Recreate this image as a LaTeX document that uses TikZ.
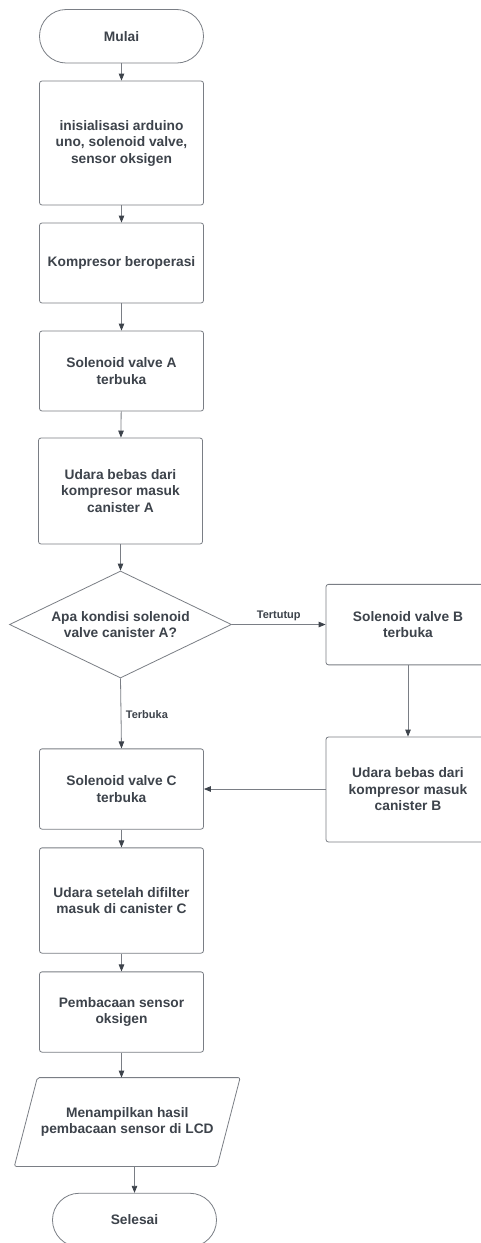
\documentclass[tikz,border=0pt]{standalone}
\usepackage{fontspec}
\setmainfont{Liberation Sans}
\usetikzlibrary{arrows.meta,shapes.geometric}
\definecolor{linecol}{HTML}{7A7E85}
\definecolor{tipcol}{HTML}{3D434B}
\definecolor{txtcol}{HTML}{3D434B}
\tikzset{
  base/.style={draw=linecol, line width=0.8pt, text=txtcol, align=center, inner sep=0pt,
    font=\fontsize{13.76}{16.5}\selectfont\bfseries},
  procbox/.style={base, rectangle, rounded corners=2.5pt, minimum width=164pt},
  termbox/.style={base, rectangle, rounded corners=26.7pt, minimum width=164pt, minimum height=53.5pt},
  decbox/.style={base, diamond, aspect=2.07, minimum width=222pt, minimum height=107pt},
  conn/.style={draw=linecol, line width=0.8pt, -{Triangle[length=7pt,width=5.5pt,color=tipcol,fill=tipcol]}},
  lbl/.style={text=txtcol, inner sep=0pt, font=\fontsize{11}{13}\selectfont\bfseries}
}
\begin{document}
\begin{tikzpicture}[x=1pt,y=-1pt]
\path[use as bounding box] (0,0) rectangle (481,1243);
\fill[white] (0,0) rectangle (481,1243);
\begin{scope}
\clip (0,0) rectangle (481,1243);
\node[termbox] (mulai) at (121.5,36.25) {Mulai};
\node[procbox, minimum height=124pt] (init) at (121.5,143) {inisialisasi arduino\\uno, solenoid valve,\\sensor oksigen};
\node[procbox, minimum height=80pt] (komp) at (121.5,263) {Kompresor beroperasi};
\node[procbox, minimum height=80pt] (solA) at (121.5,371) {Solenoid valve A\\terbuka};
\node[procbox, minimum height=106pt] (udaraA) at (120.5,491) {Udara bebas dari\\kompresor masuk\\canister A};
\node[decbox] (dec) at (120.5,624.5) {Apa kondisi solenoid\\valve canister A?};
\node[procbox, minimum height=80.5pt] (solB) at (408,624.6) {Solenoid valve B\\terbuka};
\node[procbox, minimum height=105pt] (udaraB) at (408,789.5) {Udara bebas dari\\kompresor masuk\\canister B};
\node[procbox, minimum height=80.3pt] (solC) at (121.5,789) {Solenoid valve C\\terbuka};
\node[procbox, minimum height=105.3pt] (udaraC) at (121.5,900.5) {Udara setelah difilter\\masuk di canister C};
\node[procbox, minimum height=80.3pt] (pemb) at (121.5,1012) {Pembacaan sensor\\oksigen};
\node[base, draw=none, minimum width=202pt, minimum height=88pt] (lcd) at (127.25,1122) {Menampilkan hasil\\pembacaan sensor di LCD};
\draw[draw=linecol, line width=0.8pt, rounded corners=2pt]
  ([xshift=11.5pt]lcd.north west) -- ([xshift=11.5pt]lcd.north east) --
  ([xshift=-11.5pt]lcd.south east) -- ([xshift=-11.5pt]lcd.south west) -- cycle;
\node[termbox] (selesai) at (134.5,1220) {Selesai};

\draw[conn] (mulai) -- (init);
\draw[conn] (init) -- (komp);
\draw[conn] (komp) -- (solA);
\draw[conn] (solA) -- (udaraA);
\draw[conn] (udaraA) -- (dec);
\draw[conn] (dec.east) -- (solB.west |- dec.east) node[lbl, midway, above=3.5pt] {Tertutup};
\draw[conn] (dec.south) -- (solC.north) node[lbl, midway, anchor=west, xshift=4.5pt, yshift=-1pt] {Terbuka};
\draw[conn] (solB) -- (udaraB);
\draw[conn] (udaraB.west |- solC.east) -- (solC.east);
\draw[conn] (solC) -- (udaraC);
\draw[conn] (udaraC) -- (pemb);
\draw[conn] (pemb.south) -- (pemb.south |- lcd.north);
\draw[conn] (selesai.north |- lcd.south) -- (selesai.north);
\end{scope}
\end{tikzpicture}
\end{document}
